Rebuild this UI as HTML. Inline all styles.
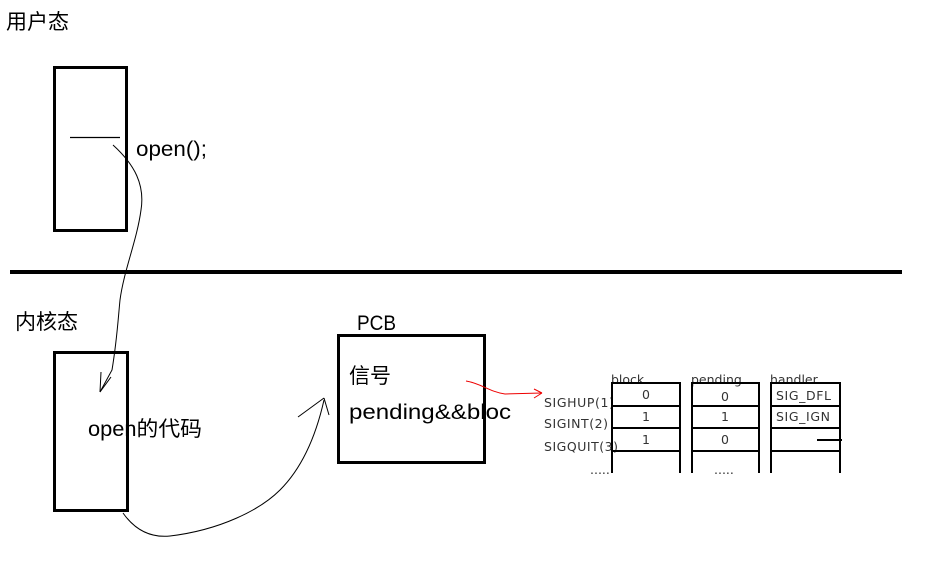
<!DOCTYPE html>
<html><head><meta charset="utf-8"><style>
body{margin:0;background:#fff;}
svg{display:block}
.c{font-family:"Liberation Sans","Noto Sans CJK SC",sans-serif;}
.t{font-family:"DejaVu Sans","Liberation Sans",sans-serif;font-size:12.5px;fill:#333;}
</style></head><body>
<svg width="932" height="572" viewBox="0 0 932 572" xmlns="http://www.w3.org/2000/svg">
<text class="c" x="6" y="29" font-size="21" textLength="63">用户态</text>
<text class="c" x="15" y="329" font-size="21" textLength="63">内核态</text>
<rect x="54.5" y="67.5" width="72" height="163" fill="none" stroke="#000" stroke-width="3"/>
<line x1="70" y1="137.5" x2="120" y2="137.5" stroke="#000" stroke-width="1.3"/>
<text class="c" x="136" y="156" font-size="21" textLength="71" lengthAdjust="spacingAndGlyphs">open();</text>
<line x1="10" y1="272" x2="902" y2="272" stroke="#000" stroke-width="4"/>
<text class="c" x="88" y="436" font-size="21" textLength="114" lengthAdjust="spacingAndGlyphs">open的代码</text>
<rect x="54.5" y="352.5" width="73" height="158" fill="none" stroke="#000" stroke-width="3"/>
<path d="M113,145 C135,165 145,185 141,210 C137,240 124,270 120,300 C118,320 117,340 112,370 L100,392" fill="none" stroke="#000" stroke-width="1"/>
<path d="M100,392 L101,372 M100,392 L111,377" fill="none" stroke="#000" stroke-width="1"/>
<path d="M123,513 C135,530 150,538 170,536 C220,530 260,510 280,490 C300,470 315,440 324,400" fill="none" stroke="#000" stroke-width="1"/>
<path d="M324,398 L298,417 M324,398 L329,415" fill="none" stroke="#000" stroke-width="1"/>
<text class="c" x="357" y="330" font-size="21" textLength="39" lengthAdjust="spacingAndGlyphs">PCB</text>
<text class="c" x="349" y="383" font-size="21" textLength="42">信号</text>
<text class="c" x="349" y="419" font-size="21" textLength="162" lengthAdjust="spacingAndGlyphs">pending&amp;&amp;bloc</text>
<rect x="338.5" y="335.5" width="146" height="127" fill="none" stroke="#000" stroke-width="3"/>
<path d="M466,381 C480,383 490,392 505,394 L542,393" fill="none" stroke="#e00" stroke-width="1"/>
<path d="M542,393 L534,389 M542,393 L534,398" fill="none" stroke="#e00" stroke-width="1"/>
<g class="t">
<text x="611" y="384">block</text>
<text x="691" y="384">pending</text>
<text x="770" y="384">handler</text>
<text x="544" y="407" textLength="70">SIGHUP(1)</text>
<text x="544" y="428" textLength="64">SIGINT(2)</text>
<text x="544" y="451" textLength="74">SIGQUIT(3)</text>
<text x="590" y="474">.....</text>
<text x="714" y="474">.....</text>
<text x="642" y="399">0</text>
<text x="642" y="421">1</text>
<text x="642" y="444">1</text>
<text x="721" y="401">0</text>
<text x="721" y="421">1</text>
<text x="721" y="444">0</text>
<text x="776" y="400" textLength="55">SIG_DFL</text>
<text x="776" y="421" textLength="54">SIG_IGN</text>
</g>
<g stroke="#000" stroke-width="2" fill="none">
<path d="M612,473 V383 H680 V473"/>
<line x1="612" y1="406" x2="680" y2="406"/><line x1="612" y1="428" x2="680" y2="428"/><line x1="612" y1="451" x2="680" y2="451"/>
<path d="M692,473 V383 H759 V473"/>
<line x1="692" y1="406" x2="759" y2="406"/><line x1="692" y1="428" x2="759" y2="428"/><line x1="692" y1="451" x2="759" y2="451"/>
<path d="M771,473 V383 H840 V473"/>
<line x1="771" y1="406" x2="840" y2="406"/><line x1="771" y1="428" x2="840" y2="428"/><line x1="771" y1="451" x2="840" y2="451"/>
<line x1="817" y1="440" x2="842" y2="440"/>
</g>
</svg>
</body></html>
